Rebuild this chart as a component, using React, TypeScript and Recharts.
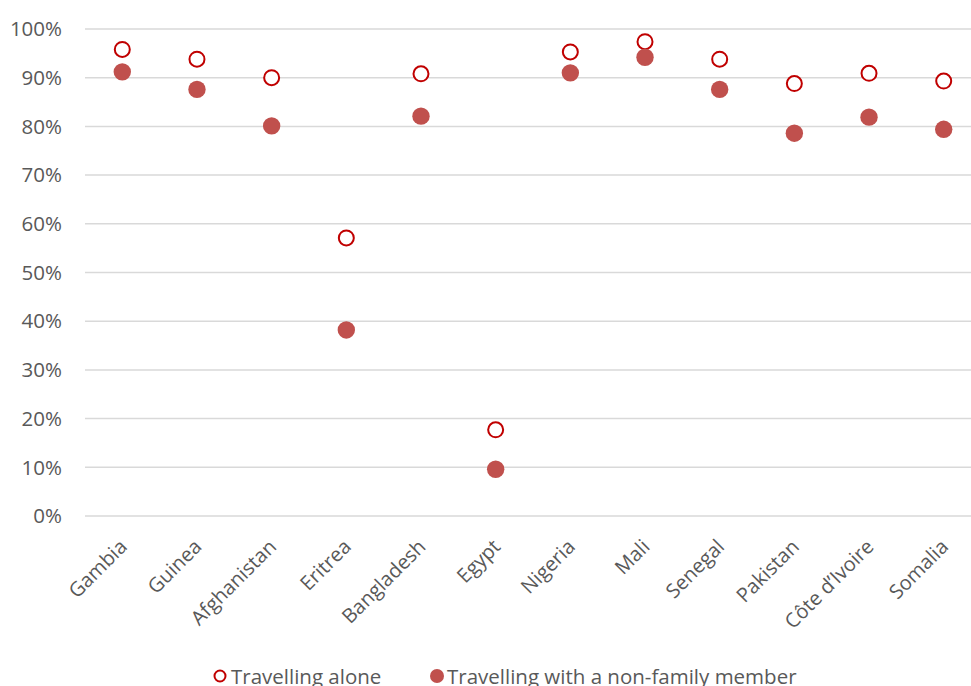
import React from 'react';
import { LineChart, Line, XAxis, YAxis, CartesianGrid, Legend } from 'recharts';

const countries = ['Gambia', 'Guinea', 'Afghanistan', 'Eritrea', 'Bangladesh', 'Egypt', 'Nigeria', 'Mali', 'Senegal', 'Pakistan', 'Côte d\u2019Ivoire', 'Somalia'];
const travellingAlone = [95.8, 93.8, 90.0, 57.1, 90.8, 17.7, 95.3, 97.4, 93.8, 88.8, 90.9, 89.3];
const travellingNonFamily = [91.2, 87.6, 80.1, 38.2, 82.1, 9.6, 91.0, 94.2, 87.6, 78.6, 81.9, 79.4];
const yTicks = [0, 10, 20, 30, 40, 50, 60, 70, 80, 90, 100];
const seriesNames = ['Travelling alone', 'Travelling with a non-family member'];

const data = countries.map((c, i) => ({
  country: c,
  alone: travellingAlone[i],
  nonFamily: travellingNonFamily[i],
}));

const FONT = '"Open Sans", sans-serif';
const TEXT = '#595959';
const OPEN = '#C00000';
const FILLED = '#C0504D';

const XTick = (props: any) => {
  const { x, y, payload } = props;
  const ax = x + 6;
  const ay = y + 32;
  return (
    <text
      x={ax}
      y={ay}
      transform={`rotate(-45 ${ax} ${ay})`}
      textAnchor="end"
      fill={TEXT}
      fontSize={20}
      fontFamily={FONT}
    >
      {payload.value}
    </text>
  );
};

const renderLegend = () => (
  <div style={{ position: 'relative', height: 40, fontFamily: FONT, fontSize: 20.5, color: TEXT }}>
    <div style={{ position: 'absolute', left: 213, top: 16, transform: 'translateY(-50%)', display: 'flex', alignItems: 'center', whiteSpace: 'nowrap' }}>
      <svg width={16} height={16} style={{ marginRight: 2 }}>
        <circle cx={7} cy={8} r={5.5} fill="#fff" stroke={OPEN} strokeWidth={2} />
      </svg>
      <span>{seriesNames[0]}</span>
    </div>
    <div style={{ position: 'absolute', left: 429, top: 16, transform: 'translateY(-50%)', display: 'flex', alignItems: 'center', whiteSpace: 'nowrap' }}>
      <svg width={16} height={16} style={{ marginRight: 2 }}>
        <circle cx={8} cy={8} r={7} fill={FILLED} />
      </svg>
      <span>{seriesNames[1]}</span>
    </div>
  </div>
);

export default function App() {
  return (
    <div style={{ position: 'absolute', left: 0, top: 0, width: 971, height: 686, overflow: 'hidden', background: '#fff' }}>
      <LineChart width={981} height={700} data={data} margin={{ top: 29, right: 0, bottom: 0, left: 0 }}>
        <CartesianGrid vertical={false} stroke="#D9D9D9" strokeWidth={1.5} />
        <XAxis
          dataKey="country"
          height={144}
          interval={0}
          axisLine={false}
          tickLine={false}
          tickSize={0}
          tickMargin={0}
          padding={{ left: 37.3, right: 37.3 }}
          tick={<XTick />}
        />
        <YAxis
          width={85}
          domain={[0, 100]}
          ticks={yTicks}
          tickFormatter={(v: number) => `${v}%`}
          axisLine={false}
          tickLine={false}
          tickSize={0}
          tickMargin={23}
          tick={{ fill: TEXT, fontSize: 20.5, fontFamily: FONT }}
        />
        <Legend verticalAlign="bottom" height={40} content={renderLegend} />
        <Line
          dataKey="alone"
          name={seriesNames[0]}
          stroke="none"
          isAnimationActive={false}
          activeDot={false}
          dot={{ r: 7.5, fill: '#fff', stroke: OPEN, strokeWidth: 2 }}
        />
        <Line
          dataKey="nonFamily"
          name={seriesNames[1]}
          stroke="none"
          isAnimationActive={false}
          activeDot={false}
          dot={{ r: 8.7, fill: FILLED, stroke: 'none' }}
        />
      </LineChart>
    </div>
  );
}
